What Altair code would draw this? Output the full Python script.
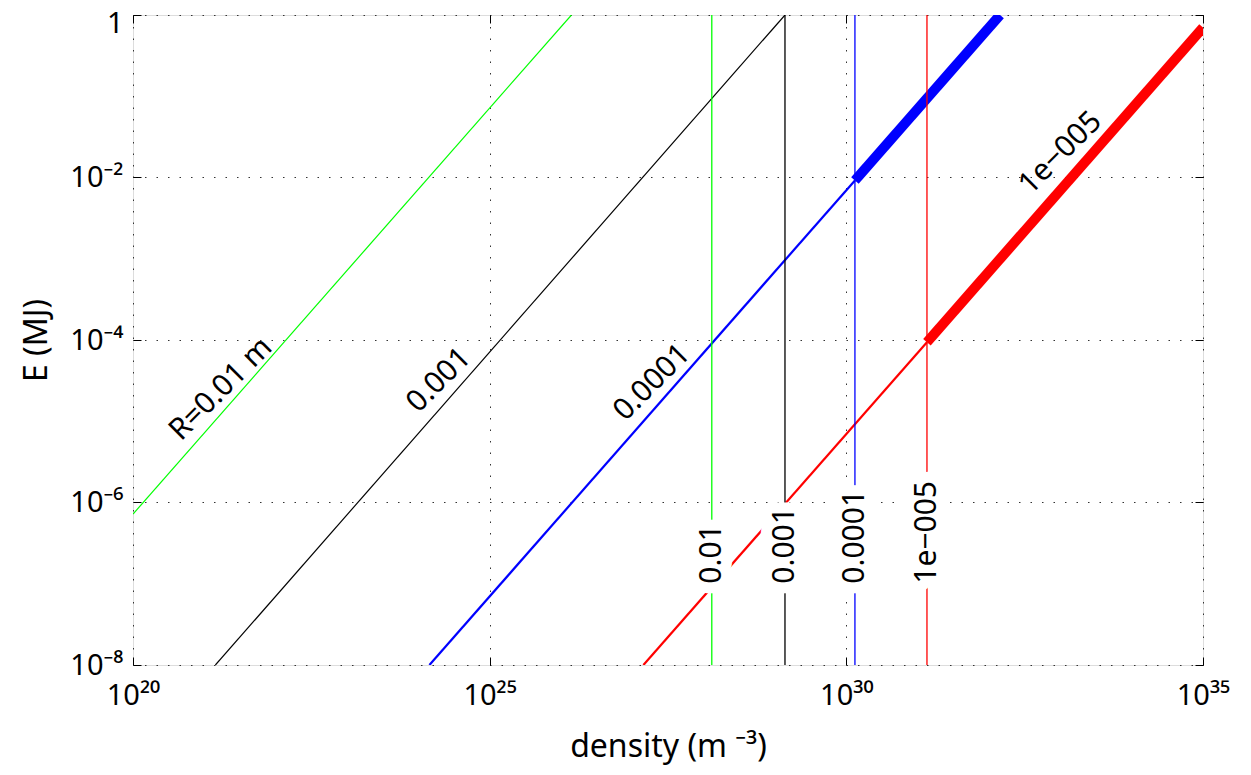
import altair as alt
import pandas as pd

# ---------------- data ----------------
R_names = ["0.01", "0.001", "0.0001", "1e-005"]
R_colors = ["#00ff00", "#000000", "#0000ff", "#ff0000"]

# thin diagonal lines (start / end points)
diag_n_start = [1.0e20, 1.43e21, 1.43e24, 1.43e27]
diag_E_start = [7.2e-7, 1.0e-8, 1.0e-8, 1.0e-8]
diag_n_end = [1.4e26, 1.38e29, 1.32e30, 1.35e31]
diag_E_end = [1.0, 1.0, 9.2e-3, 9.4e-5]

# thick diagonal parts
thick_names = ["0.0001", "1e-005"]
thick_n_start = [1.32e30, 1.35e31]
thick_E_start = [9.2e-3, 9.4e-5]
thick_n_end = [1.43e32, 1.0e35]
thick_E_end = [1.0, 0.7]

# vertical lines
vert_n = [1.3e28, 1.38e29, 1.32e30, 1.35e31]
vert_E_low = [1e-8, 1e-8, 1e-8, 1e-8]
vert_E_high = [1.0, 1.0, 1.0, 1.0]
vert_labels = ["0.01", "0.001", "0.0001", "1e\u2212005"]
vert_label_E = [1.0e-7, 1.0e-7, 1.0e-7, 1.0e-7]

# labels along the diagonal lines
diag_labels = ["R=0.01 m", "0.001", "0.0001", "1e\u2212005"]
diag_label_n = [1.71e21, 1.95e24, 1.89e27, 1.0e33]
diag_label_E = [2.5e-5, 3.2e-5, 3.0e-5, 0.02]

# axis ticks
x_ticks = [1e20, 1e25, 1e30, 1e35]
x_tick_labels = ["10\u00b2\u2070", "10\u00b2\u2075", "10\u00b3\u2070", "10\u00b3\u2075"]
y_ticks = [1e-8, 1e-6, 1e-4, 1e-2, 1.0]
y_tick_labels = ["10\u207b\u2078", "10\u207b\u2076", "10\u207b\u2074", "10\u207b\u00b2", "1"]

# ---------------- tables ----------------
diag_df = pd.DataFrame({"R": R_names, "n0": diag_n_start, "E0": diag_E_start,
                        "n1": diag_n_end, "E1": diag_E_end})
thick_df = pd.DataFrame({"R": thick_names, "n0": thick_n_start, "E0": thick_E_start,
                         "n1": thick_n_end, "E1": thick_E_end})
vert_df = pd.DataFrame({"R": R_names, "n": vert_n, "Elo": vert_E_low, "Ehi": vert_E_high})
vlab_df = pd.DataFrame({"R": R_names, "n": vert_n, "E": vert_label_E, "txt": vert_labels})
dlab_df = pd.DataFrame({"n": diag_label_n, "E": diag_label_E, "txt": diag_labels})

FONT = "Noto Sans"
TICK_FS = 29
TITLE_FS = 32
LABEL_FS = 30


def label_expr(vals, labs):
    expr = "''"
    for v, l in reversed(list(zip(vals, labs))):
        expr = f"abs(datum.value / {v!r} - 1) < 1e-6 ? '{l}' : ({expr})"
    return expr


xs = alt.Scale(type="log", domain=[1e20, 1e35], nice=False)
ys = alt.Scale(type="log", domain=[1e-8, 1.0], nice=False)
col = alt.Color("R:N", scale=alt.Scale(domain=R_names, range=R_colors), legend=None)

x_axis = alt.Axis(values=x_ticks, labelExpr=label_expr(x_ticks, x_tick_labels),
                  title="density (m \u207b\u00b3)", grid=True, gridDash=[1.5, 10],
                  gridColor="#333333", gridWidth=1, domain=False, ticks=True, tickSize=8,
                  offset=-8, tickColor="black", tickWidth=1, labelPadding=16,
                  labelFont=FONT, labelFontSize=TICK_FS, labelColor="black", labelFlush=False,
                  labelOverlap=False, titleFont=FONT, titleFontSize=TITLE_FS,
                  titleFontWeight="normal", titleColor="black", titlePadding=21, zindex=0)
y_axis = alt.Axis(values=y_ticks, labelExpr=label_expr(y_ticks, y_tick_labels),
                  title="E (MJ)", grid=True, gridDash=[1.5, 10],
                  gridColor="#333333", gridWidth=1, domain=False, ticks=True, tickSize=8,
                  offset=-8, tickColor="black", tickWidth=1, labelPadding=10,
                  labelOffset={"condition": {"test": "datum.value >= 0.5", "value": 8},
                               "value": 0},
                  labelFont=FONT, labelFontSize=TICK_FS, labelColor="black", labelFlush=False,
                  labelOverlap=False, titleFont=FONT, titleFontSize=TITLE_FS,
                  titleFontWeight="normal", titleColor="black", titlePadding=16, zindex=0)
x_axis2 = alt.Axis(orient="top", values=x_ticks, labels=False, title=None, grid=False,
                   domain=False, tickSize=8, offset=-8, tickColor="black", zindex=0)
y_axis2 = alt.Axis(orient="right", values=y_ticks, labels=False, title=None, grid=False,
                   domain=False, tickSize=8, offset=-8, tickColor="black", zindex=0)

# thin diagonals (green / black thin, blue / red slightly thicker)
diag_thin = alt.Chart(diag_df).mark_rule(strokeWidth=1.2, clip=True).encode(
    x=alt.X("n0:Q", scale=xs, axis=x_axis), x2="n1:Q",
    y=alt.Y("E0:Q", scale=ys, axis=y_axis), y2="E1:Q", color=col
).transform_filter(alt.FieldOneOfPredicate(field="R", oneOf=["0.01", "0.001"]))

diag_med = alt.Chart(diag_df).mark_rule(strokeWidth=2.2, clip=True).encode(
    x=alt.X("n0:Q", scale=xs, axis=None), x2="n1:Q",
    y=alt.Y("E0:Q", scale=ys, axis=None), y2="E1:Q", color=col
).transform_filter(alt.FieldOneOfPredicate(field="R", oneOf=["0.0001", "1e-005"]))

thick = alt.Chart(thick_df).mark_rule(strokeWidth=10, clip=True).encode(
    x=alt.X("n0:Q", scale=xs, axis=None), x2="n1:Q",
    y=alt.Y("E0:Q", scale=ys, axis=None), y2="E1:Q", color=col
)

vert = alt.Chart(vert_df).mark_rule(strokeWidth=1.3, clip=True).encode(
    x=alt.X("n:Q", scale=xs, axis=x_axis2),
    y=alt.Y("Elo:Q", scale=ys, axis=y_axis2), y2="Ehi:Q", color=col
)

halo = alt.Chart(vlab_df).mark_text(
    font=FONT, fontSize=LABEL_FS, angle=270, align="left", baseline="middle",
    fill="white", stroke="white", strokeWidth=22, strokeJoin="round"
).encode(x=alt.X("n:Q", scale=xs, axis=None), y=alt.Y("E:Q", scale=ys, axis=None),
         text="txt:N")

vtext = alt.Chart(vlab_df).mark_text(
    font=FONT, fontSize=LABEL_FS, angle=270, align="left", baseline="middle", color="black"
).encode(x=alt.X("n:Q", scale=xs, axis=None), y=alt.Y("E:Q", scale=ys, axis=None),
         text="txt:N")

dtext = alt.Chart(dlab_df).mark_text(
    font=FONT, fontSize=LABEL_FS, angle=315, align="center", baseline="middle", color="black"
).encode(x=alt.X("n:Q", scale=xs, axis=None), y=alt.Y("E:Q", scale=ys, axis=None),
         text="txt:N")

chart = alt.layer(diag_thin, diag_med, thick, vert, halo, vtext, dtext).resolve_axis(
    x="independent", y="independent"
).properties(
    width=1070, height=650,
    autosize=alt.AutoSizeParams(type="none"),
    padding={"left": 125, "top": 7, "right": 40, "bottom": 100},
).configure_view(stroke="black", strokeWidth=2).configure(background="white")

chart.save("out.html", embed_options={"renderer": "svg", "actions": False})
